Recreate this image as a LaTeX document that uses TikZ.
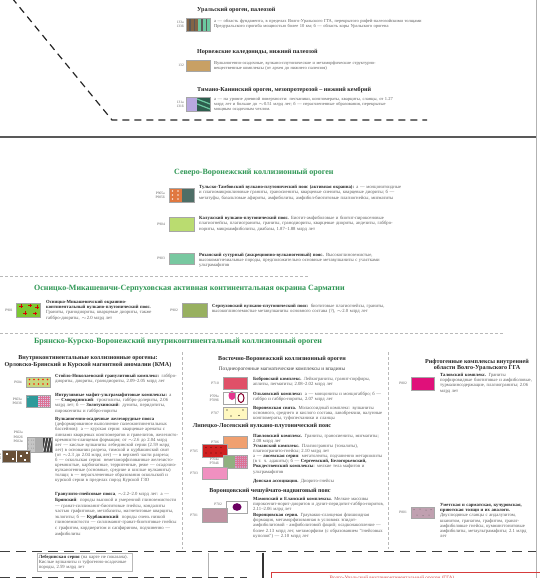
\documentclass[tikz,border=0pt]{standalone}
\usepackage{fontspec}
\setmainfont{Liberation Serif}
\usetikzlibrary{positioning}
\definecolor{orogreen}{RGB}{46,150,84}
\definecolor{txtgray}{RGB}{92,92,92}
\definecolor{umber}{RGB}{130,100,70}
\definecolor{mint}{RGB}{108,200,160}
\definecolor{ochre}{RGB}{200,160,100}
\definecolor{lavend}{RGB}{184,168,224}
\definecolor{pineg}{RGB}{46,94,78}
\definecolor{rust}{RGB}{224,120,64}
\definecolor{slateg}{RGB}{78,110,102}
\definecolor{limeg}{RGB}{186,220,112}
\definecolor{seag}{RGB}{120,200,160}
\definecolor{brightg}{RGB}{124,200,50}
\definecolor{oliveg}{RGB}{152,176,96}
\definecolor{paleyg}{RGB}{200,216,128}
\definecolor{tealc}{RGB}{46,154,154}
\definecolor{lilac}{RGB}{216,200,232}
\definecolor{rosered}{RGB}{224,80,104}
\definecolor{cream}{RGB}{255,248,192}
\definecolor{apricot}{RGB}{240,160,112}
\definecolor{scarlet}{RGB}{208,32,32}
\definecolor{sage}{RGB}{144,176,128}
\definecolor{pinkc}{RGB}{240,144,192}
\definecolor{mauve}{RGB}{192,144,160}
\definecolor{magen}{RGB}{224,16,122}
\definecolor{dustm}{RGB}{192,160,176}
\definecolor{borderred}{RGB}{214,60,60}
\newcommand{\bt}[1]{\textbf{\color{black!85}#1}}

\begin{document}
\begin{tikzpicture}[x=1pt,y=-1pt,
    txt/.style={anchor=north west,inner sep=0pt,align=left,text=txtgray,
      font=\fontsize{4.7}{5.25}\selectfont},
    toptxt/.style={txt,font=\fontsize{4.5}{5.1}\selectfont},
    lbl/.style={anchor=east,inner sep=0pt,align=right,text=txtgray,
      font=\fontsize{3.6}{4.2}\selectfont},
    hd/.style={inner sep=0pt,text=black!85,font=\bfseries\fontsize{6.1}{6.9}\selectfont},
    ghd/.style={anchor=west,inner sep=0pt,text=orogreen,font=\bfseries\fontsize{8}{8.5}\selectfont},
    sw/.style={draw=gray!70,line width=0.4pt},
    blkdash/.style={black!85,line width=1.2pt,dash pattern=on 7pt off 5pt},
    heavydash/.style={black!75,line width=1.8pt,dash pattern=on 10pt off 6pt},
    graydash/.style={gray!55,line width=0.6pt,dash pattern=on 3pt off 2pt},
    checks/.style={purple!55,line width=0.3pt}]
\useasboundingbox (0,0) rectangle (539,578);

% frame lines of the upper part
\draw[blkdash] (12,-2) -- (112,120) -- (427,120);
\draw[gray!70!black,line width=1.5pt] (0,137) -- (536,137);
\draw[gray!60,line width=0.8pt] (536,0) -- (536,578);

% Ural, Norway, Timan
\node (ural) at (197,10) [hd,anchor=west] {Уральский ороген, палеозой};
\fill[umber] (186,18) rectangle (198,31);
\fill[mint] (198,18) rectangle (210,31);
\foreach \x in {189,193.5,201,205.5} \fill[black!65] (\x,18) rectangle (\x+1.8,31);
\draw[sw] (186,18) rectangle (210,31);
\node (l133) at (184,24.5) [lbl] {133а\\133б};
\node (t133) at (214,19) [toptxt,text width=222pt] {а — область фундамента, в пределах Волго-Уральского ГГА, перекрытого рифей-палеозойскими толщами Предуральского прогиба мощностью более 10 км; б — область коры Уральского орогена};

\node (norv) at (197,52) [hd,anchor=west] {Норвежские каледониды, нижний палеозой};
\draw[sw,fill=ochre] (186,60) rectangle (210,71.5);
\node (l132) at (184,65.5) [lbl] {132};
\node (t132) at (214,61) [toptxt,text width=165pt] {Вулканогенно-осадочные, вулкано-плутонические и метаморфические структурно-вещественные комплексы (от архея до нижнего палеозоя)};

\node (timan) at (197,90) [hd,anchor=west] {Тимано-Канинский ороген, мезопротерозой – нижний кембрий};
\fill[lavend] (186,97) rectangle (197,111);
\fill[pineg] (197,97) rectangle (210,111);
\foreach \y in {99,104} \draw[mint,line width=1.2pt] (197,\y) -- (210,\y+5);
\draw[sw] (186,97) rectangle (210,111);
\node (l131) at (184,104) [lbl] {131а\\131б};
\node (t131) at (214,97) [toptxt,text width=182pt] {а — на уровне дневной поверхности: песчаники, конгломераты, кварциты, сланцы, от 1.27 млрд лет и больше до $\sim$0.51 млрд лет; б — нерасчлененные образования, перекрытые мощным осадочным чехлом.};

% North Voronezh orogen
\node (svo) at (174,173) [ghd] {Северо-Воронежский коллизионный ороген};
\fill[rust] (169,188) rectangle (182,202);
\fill[slateg] (182,188) rectangle (194,202);
\foreach \x in {172.5,178} \foreach \y in {191,195,199} \fill[white!80!rust] (\x,\y) circle (0.8);
\draw[sw] (169,188) rectangle (194,202);
\node (l905) at (165,195) [lbl] {P905а\\P905б};
\node (t905) at (199,185) [txt,text width=205pt] {\bt{Тульско-Тамбовский вулкано-плутонический пояс (активная окраина):} а — монцонитоидные и плагиомикроклиновые граниты, граносиениты, кварцевые сиениты, кварцевые диориты; б — метатуфы, базальтовые афириты, амфиболиты, амфибол-биотитовые плагиогнейсы, мигматиты};

\draw[sw,fill=limeg] (169,217) rectangle (194,231);
\node (l904) at (165,224) [lbl] {P904};
\node (t904) at (199,216) [txt,text width=205pt] {\bt{Калужский вулкано-плутонический пояс.} Биотит-амфиболовые и биотит-пироксеновые плагиогнейсы, плагиограниты, граниты, гранодиориты, кварцевые диориты, андезиты, габбро-нориты, микроамфиболиты, диабазы, 1.87–1.88 млрд лет};

\draw[sw,fill=seag] (169,253) rectangle (194,264);
\node (l903) at (165,258.5) [lbl] {P903};
\node (t903) at (199,253) [txt,text width=207pt] {\bt{Рязанский сутурный (аккреционно-вулканогенный) пояс.} Высокоглиноземистые, высокомагнезиальные породы, предположительно основные метавулканиты с участками ультрамафитов};

\draw[graydash] (0,276.5) -- (308,276.5);

% Osnitsk-Mikashevichi-Serpukhov margin
\node (osn) at (34,289) [ghd] {Осницко-Микашевичи-Серпуховская активная континентальная окраина Сарматии};
\fill[brightg] (16,303) rectangle (40,317);
\foreach \p in {(21,306),(30,305),(37,307),(25,313),(35,313.5)}
  \draw[red!85!black,line width=0.5pt] \p ++(-1.6,0) -- ++(3.2,0) \p ++(0,-1.6) -- ++(0,3.2);
\draw[sw] (16,303) rectangle (40,317);
\node (l901) at (13,310) [lbl] {P901};
\node (t901) at (46,300) [txt,text width=108pt] {\bt{Осницко-Микашевичский окраинно-континентальный вулкано-плутонический пояс.} Граниты, гранодиориты, кварцевые диориты, также габбро-диориты, $\sim$2.0 млрд лет};

\draw[sw,fill=oliveg] (182,303) rectangle (207,317);
\node (l902) at (178,310) [lbl] {P902};
\node (t902) at (212,304) [txt,text width=192pt] {\bt{Серпуховский вулкано-плутонический пояс:} биотитовые плагиогнейсы, граниты, высокоглиноземистые метавулканиты основного состава (?), $\sim$2.0 млрд лет};

\draw[graydash] (0,333) -- (503,333);

% Bryansk-Kursk-Voronezh orogen
\node (bkv) at (34,342) [ghd] {Брянско-Курско-Воронежский внутриконтинентальный коллизионный ороген};
\draw[graydash] (182,352) -- (182,549);
\draw[graydash] (388,352) -- (388,549);

% left column
\node (kma) at (88,361.5) [hd,align=center] {Внутриконтинентальные коллизионные орогены:\\Орловско-Брянский и Курской магнитной аномалии (КМА)};

\fill[paleyg] (26,377) rectangle (50,387);
\foreach \x in {29.5,34,38.5,43,47.5} \foreach \y in {379.5,384} \fill[red!80!orange] (\x,\y) circle (0.9);
\draw[sw] (26,377) rectangle (50,387);
\node (l604) at (22,382) [lbl] {P604};
\node (t604) at (55,374) [txt,text width=124pt] {\bt{Стойло-Николаевский гранулитовый комплекс:} габбро-диориты, диориты, гранодиориты, 2.09–2.05 млрд лет};

\fill[tealc] (26,395) rectangle (38,407);
\fill[lilac] (38,395) rectangle (50,407);
\foreach \x in {40,42,44,46,48} \draw[checks] (\x,395) -- (\x,407);
\foreach \y in {397,399,401,403,405} \draw[checks] (38,\y) -- (50,\y);
\node at (28,397.5) [inner sep=0pt,text=white,font=\fontsize{3}{3}\selectfont] {а};
\draw[sw] (26,395) rectangle (50,407);
\node (l603) at (22,401) [lbl] {P603а\\P603б};
\node (t603) at (55,393) [txt,text width=124pt] {\bt{Интрузивные мафит-ультрамафитовые комплексы:} а — \bt{Смородинский}: троктолиты, габбро-долериты, 2.06 млрд лет; б — \bt{Золотухинский}: дуниты, перидотиты, пироксениты и габбро-нориты};

\fill[gray!45] (27,437) rectangle (35,452);
\fill[gray!65] (35,437) rectangle (43,452);
\fill[black!75] (43,437) rectangle (52,452);
\foreach \x in {28.5,31.5,33.5} \foreach \y in {440,444,448} \fill[gray!80] (\x,\y) circle (0.5);
\foreach \x in {43,46,49} \draw[white,line width=0.5pt] (\x,452) -- (\x+3,437);
\draw[sw] (27,437) rectangle (52,452);
\node (l602) at (23,437) [lbl] {P602а\\P602б\\P602в};

\fill[umber!80!black] (2,450) rectangle (30,462);
\draw[white,line width=0.4pt] (16,450) -- (16,462);
\foreach \p in {(6,453),(12,458),(20,455),(26,452),(24,459)} \fill[white] \p rectangle ++(2,2);
\draw[sw] (2,450) rectangle (30,462);
\node (l601) at (1.5,456) [lbl] {P601а\\P601б};

\node (t602) at (55,417.5) [txt,text width=124pt,font=\fontsize{4.7}{5.1}\selectfont] {\bt{Вулканогенно-осадочные железорудные пояса} (деформированное выполнение палеоконтинентальных бассейнов): а — курская серия: кварцевые аренаты с линзами кварцевых конгломератов и гравелитов, железисто-кремнисто-сланцевая формация; от $\sim$2.6 до 2.04 млрд лет — кислые вулканиты лебединской серии (2.59 млрд лет) в основании разреза, тимской и курбакинской свит (от $\sim$2.3 до 2.04 млрд лет) — в верхней части разреза; б — оскольская серия: неметаморфизованные железисто-кремнистые, карбонатные, терригенные, реже — осадочно-вулканогенные (основные, средние и кислые вулканиты) толщи; в — нерасчлененные образования оскольской и курской серии в пределах пород Курской ГЗО};

\node (t600) at (55,492.5) [txt,text width=124pt,font=\fontsize{4.7}{5.6}\selectfont] {\bt{Гранулито-гнейсовые пояса}, $\sim$2.2–2.0 млрд лет: а — \bt{Брянский}: породы высокой и умеренной глиноземистости — гранат-силлиманит-биотитовые гнейсы, кондалиты частью графитовые, метабазиты, магнетитовые кварциты, эклогиты; б — \bt{Курбакинский}: породы очень низкой глиноземистости — силлиманит-гранат-биотитовые гнейсы с графитом, кордиеритом и сапфирином, подчиненно — амфиболиты};

% middle column
\node (evo) at (282,359) [hd] {Восточно-Воронежский коллизионный ороген};
\node (pozd) at (282,369) [hd,font=\fontsize{5.3}{6}\selectfont,text=black!75] {Позднеорогенные магматические комплексы и впадины};

\draw[sw,fill=rosered] (223,377) rectangle (247,389);
\node (l710) at (219,383) [lbl] {P710};
\node (t710) at (253,377) [txt,text width=132pt] {\bt{Бобровский комплекс.} Лейкограниты, гранит-порфиры, аплиты, пегматиты; 2.08–2.02 млрд лет};

\fill[white] (223,392) rectangle (247,404);
\fill[magen!85] (232,395.5) ellipse (3.5 and 4.5);
\draw[purple!70!black,line width=1pt] (241,398) ellipse (3 and 4.5);
\draw[gray!70,line width=0.3pt] (235,392) -- (235,404);
\draw[sw] (223,392) rectangle (247,404);
\node (l709) at (219,398) [lbl] {P709а\\P709б};
\node (t709) at (253,392) [txt,text width=132pt] {\bt{Ольховский комплекс:} а — монцониты и монцогаббро; б — габбро и габбро-нориты, 2.07 млрд лет};

\fill[cream] (223,407) rectangle (247,419);
\foreach \p in {(227,410),(243,410),(231,416),(239,415.5)} \fill[black] \p circle (0.7);
\draw[sw] (223,407) rectangle (247,419);
\node (l707) at (219,413) [lbl] {P707};
\node (t707) at (253,406) [txt,text width=132pt] {\bt{Воронежская свита.} Молассоидный комплекс: вулканиты основного, среднего и кислого состава, лавобрекчии, валунные конгломераты, туфопесчаники и сланцы};

\node (lip) at (262,426) [hd] {Липецко-Лосевский вулкано-плутонический пояс};

\draw[sw,fill=apricot] (223,436) rectangle (247,448);
\node (l706) at (219,442) [lbl] {P706};
\node (t706) at (253,434) [txt,text width=132pt] {\bt{Павловский комплекс.} Граниты, граносиениты, мигматиты; 2.08 млрд лет};

\fill[scarlet] (202,444) rectangle (227,457);
\foreach \x in {206,211,216,221} \foreach \y in {447.5,453} \fill[black!60!scarlet] (\x,\y) circle (0.6);
\draw[sw] (202,444) rectangle (227,457);
\node (l705) at (198,451) [lbl] {P705};
\node (t705) at (253,444) [txt,text width=132pt] {\bt{Усманский комплекс.} Плагиограниты (тоналиты), плагиогранито-гнейсы; 2.10 млрд лет};

\fill[sage] (223,455) rectangle (235,468);
\fill[lilac!80!purple] (235,455) rectangle (247,468);
\foreach \x in {237,239,241,243,245} \draw[checks] (\x,455) -- (\x,468);
\foreach \y in {457,459,461,463,465} \draw[checks] (235,\y) -- (247,\y);
\draw[sw] (223,455) rectangle (247,468);
\node (l704) at (219,461.5) [lbl] {P704а\\P704б};
\node (t704) at (253,455) [txt,text width=132pt] {а — \bt{лосевская серия}: метатолеиты, подчиненно метариолиты (в т. ч. адакиты); б — \bt{Сергеевский, Белогорьевский, Рождественский комплексы}: мелкие тела мафитов и ультрамафитов};

\draw[sw,fill=pinkc] (202,467) rectangle (227,479);
\node (l703) at (198,473) [lbl] {P703};
\node (t703) at (253,479.5) [txt,text width=132pt] {\bt{Донская ассоциация.} Диорито-гнейсы};

\node (vor) at (270,491) [hd] {Воронцовский чешуйчато-надвиговый пояс};

\fill[white] (226,501) rectangle (247,513);
\fill[purple!70!blue!80!black] (237,507) ellipse (4.5 and 3.8);
\draw[sw] (226,501) rectangle (247,513);
\node (l702) at (222,504) [lbl] {P702};
\draw[sw,fill=mauve] (202,508) rectangle (227,522);
\node (l701) at (198,515) [lbl] {P701};
\node (t702) at (253,497) [txt,text width=132pt] {\bt{Мамонский и Еланский комплексы.} Мелкие массивы пироксенит-норит-диоритов и дунит-перидотит-габбро-норитов, 2.11–2.06 млрд лет};
\node (t701) at (253,513) [txt,text width=132pt] {\bt{Воронцовская серия.} Граувакко-сланцевая флишоидная формация, метаморфизованная в условиях эпидот-амфиболитовой - амфиболитовой фаций; осадконакопление — более 2.13 млрд лет, метаморфизм (с образованием "гнейсовых куполов") — 2.10 млрд лет};

% right column
\node (rift) at (477,365) [hd,align=center] {Рифтогенные комплексы внутренней\\области Волго-Уральского ГГА};
\draw[sw,fill=magen] (411,377) rectangle (434,390);
\node (l802) at (407,383.5) [lbl] {P802};
\node (t802) at (440,373) [txt,text width=92pt] {\bt{Таловский комплекс.} Граниты порфировидные биотитовые и амфиболовые, турмалинсодержащие, плагиограниты; 2.06 млрд лет};

\fill[dustm] (411,507) rectangle (434,518);
\foreach \p in {(414,509.5),(420,509),(426,510),(431,509.5),(417,515),(423,515.5),(429,515)} \fill[black!60] \p circle (0.5);
\draw[sw] (411,507) rectangle (434,518);
\node (l801) at (407,512.5) [lbl] {P801};
\node (t801) at (440,503) [txt,text width=92pt] {\bt{Уметская и сарматская, кучуровская, приютская толщи и их аналоги.} Двуслюдяные сланцы с андалузитом, кианитом, гранатом, графитом, гранат-амфиболовые гнейсы, куммингтонитовые амфиболиты, метаультрамафиты; 2.1 млрд лет};

% lower part
\draw[heavydash] (0,551.5) -- (536,551.5);
\node (leb) at (37,553) [txt,draw=gray!55,line width=0.6pt,inner sep=1.5pt,text width=92pt] {\bt{Лебединская серия} (на карте не показана). Кислые вулканиты и туфогенно-осадочные породы, 2.59 млрд лет};
\draw[gray!60,line width=0.6pt] (208,552.5) -- (208,578);
\draw[heavydash] (0,577.5) -- (247,577.5);
\draw[black!80,line width=1.3pt] (263,552.5) -- (263,578);
\draw[borderred,line width=0.9pt] (271,579) -- (271,572) -- (540,572);
\node (vu) at (392,575.5) [anchor=north,inner sep=0pt,text=borderred,font=\fontsize{5.2}{6}\selectfont] {Волго-Уральский внутриконтинентальный ороген (ГГА)};
\end{tikzpicture}
\end{document}
